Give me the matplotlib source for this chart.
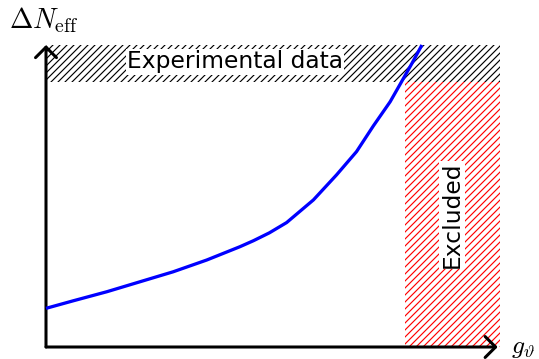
import matplotlib
matplotlib.use("Agg")
import matplotlib.pyplot as plt
from matplotlib.patches import Rectangle

# Coupling (arbitrary units) and the corresponding Delta N_eff curve
g_theta = [0.0, 0.060, 0.134, 0.207, 0.280, 0.354, 0.427, 0.457, 0.492, 0.530, 0.589,
           0.640, 0.684, 0.721, 0.758, 0.783, 0.806, 0.828]
delta_neff = [0.128, 0.153, 0.183, 0.216, 0.249, 0.288, 0.332, 0.352, 0.378, 0.412, 0.487,
              0.570, 0.647, 0.732, 0.812, 0.878, 0.939, 1.0]

# Experimental bound on Delta N_eff and excluded coupling range
neff_bound = 0.877
g_excluded = 0.791

DPI = 84
W, H = 539, 359
plt.rcParams['mathtext.fontset'] = 'cm'
plt.rcParams['hatch.linewidth'] = 1.0

fig = plt.figure(figsize=(W / DPI, H / DPI), dpi=DPI)
left, right, bottom, top = 46, 500, 347, 45
ax = fig.add_axes([left / W, 1 - bottom / H, (right - left) / W, (bottom - top) / H])
ax.set_xlim(0, 1)
ax.set_ylim(0, 1)
ax.axis('off')

# Experimental band
ax.add_patch(Rectangle((0, neff_bound), 1, 1 - neff_bound, fill=False,
                       hatch='////', edgecolor='black', linewidth=0, zorder=1))
# Excluded region
ax.add_patch(Rectangle((g_excluded, 0), 1 - g_excluded, neff_bound, fill=False,
                       hatch='////', edgecolor='red', linewidth=0, zorder=1))

ax.plot(g_theta, delta_neff, color='blue', lw=2.8, zorder=4, clip_on=False,
        solid_capstyle='butt', solid_joinstyle='round')

ax.text(0.416, 0.944, 'Experimental data', ha='center', va='center', fontsize=20,
        bbox=dict(facecolor='white', edgecolor='none', pad=1), zorder=3)
ax.text(0.894, 0.437, 'Excluded', ha='center', va='center', fontsize=20,
        rotation=90, bbox=dict(facecolor='white', edgecolor='none', pad=1), zorder=3)

# Axes with arrow heads
arrow = dict(arrowstyle='->,head_length=0.5,head_width=0.5', lw=2.6, color='black',
             shrinkA=0, shrinkB=0, mutation_scale=18)
ax.annotate('', xy=(0.995, 0), xytext=(0, 0), arrowprops=arrow, annotation_clip=False)
ax.annotate('', xy=(0, 1.0), xytext=(0, 0), arrowprops=arrow, annotation_clip=False)

fig.text(9 / W, 1 - 20 / H, r'$\Delta N_{\rm eff}$', fontsize=24, ha='left', va='center')
fig.text(511 / W, 1 - 347 / H, r'$g_\vartheta$', fontsize=22, ha='left', va='center')

fig.savefig('out.png', dpi=DPI)
